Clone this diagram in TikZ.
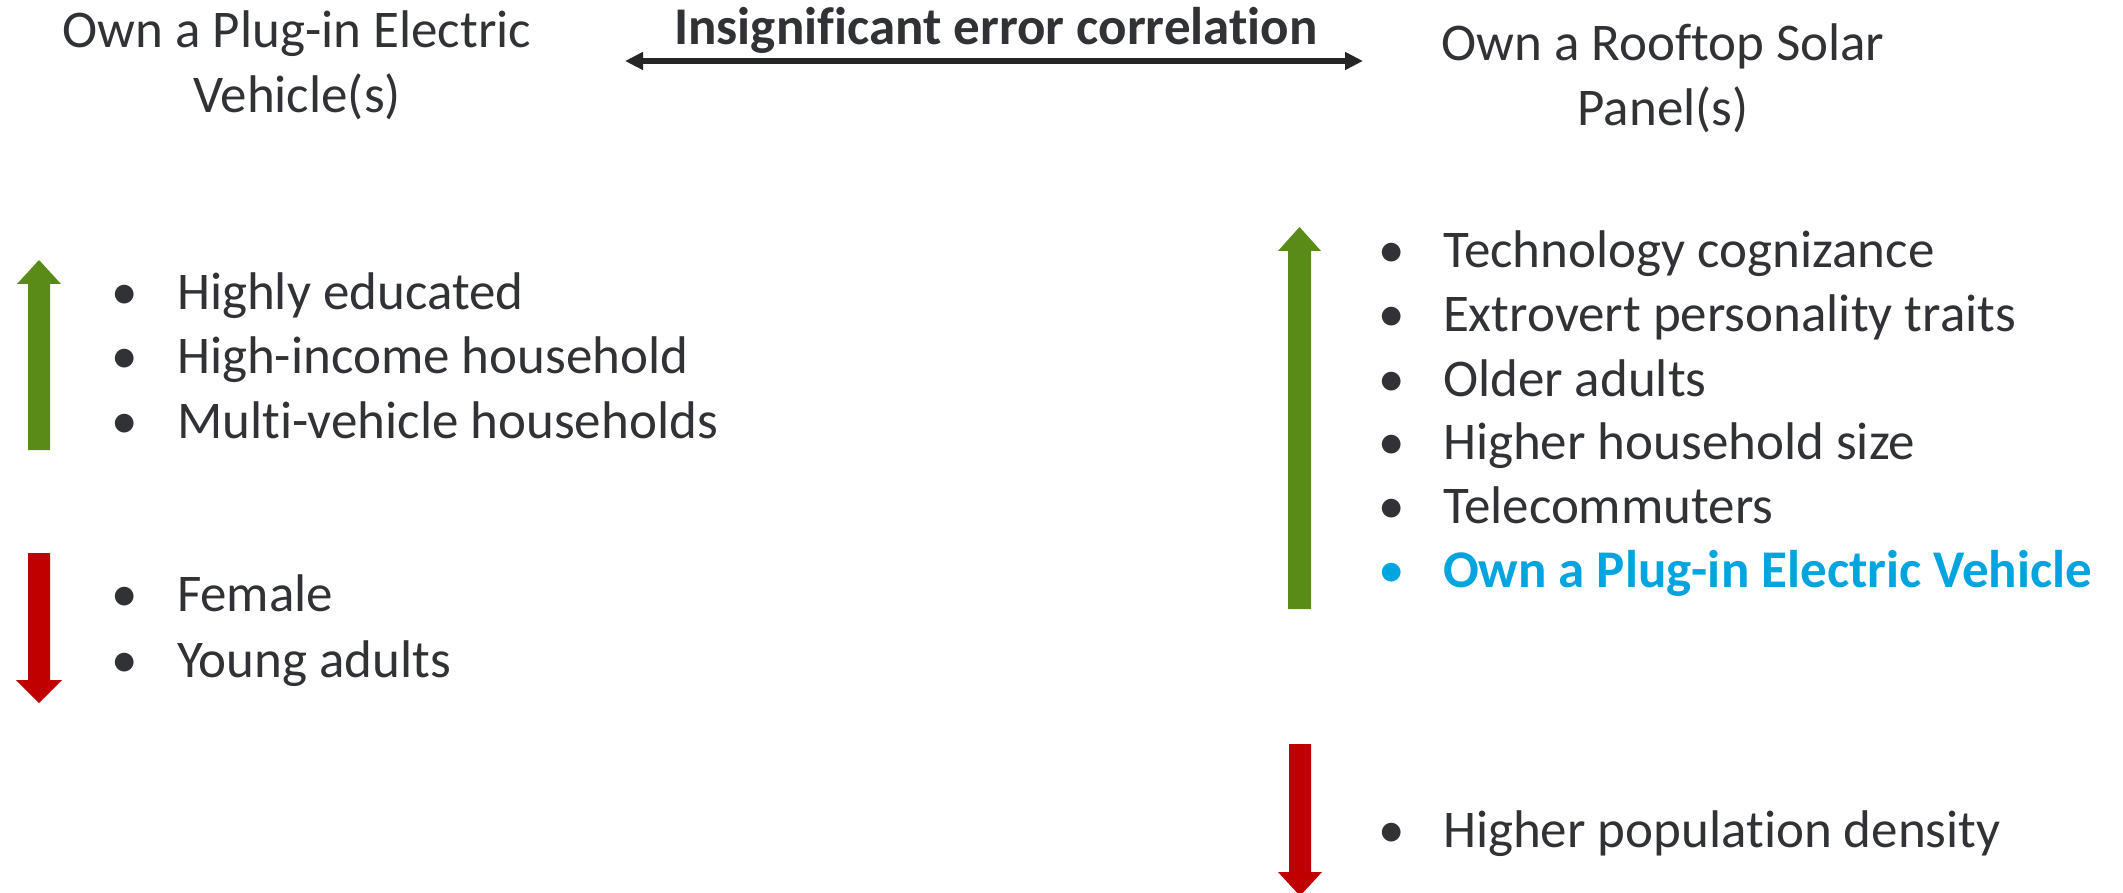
\documentclass[tikz,border=0pt]{standalone}
\usepackage{fontspec}
\setmainfont{Carlito}[Ligatures={NoCommon}]
\usetikzlibrary{arrows.meta}
\definecolor{txt}{HTML}{303235}
\definecolor{upgreen}{HTML}{5A8A18}
\definecolor{downred}{HTML}{C00000}
\definecolor{pevblue}{HTML}{00A4DE}
\definecolor{arrowdark}{HTML}{262626}
\begin{document}
\begin{tikzpicture}[x=1pt,y=-1pt,
  every node/.style={inner sep=0pt, outer sep=0pt, font=\fontsize{53}{64}\selectfont, text=txt},
  itemtext/.style={anchor=base west},
  bulletmark/.style={anchor=base},
  titletext/.style={anchor=base},
  uparrow/.style={fill=upgreen},
  downarrow/.style={fill=downred}]
\useasboundingbox (0,0) rectangle (2123,893);
\fill[white] (0,0) rectangle (2123,893);

% titles
\node[titletext] (lt1) at (297,48) {Own a Plug-in Electric};
\node[titletext] (lt2) at (297,113) {Vehicle(s)};
\node[titletext] (rt1) at (1663,61) {Own a Rooftop Solar};
\node[titletext] (rt2) at (1663,126) {Panel(s)};
\node[titletext, font=\fontsize{53}{64}\selectfont\bfseries] (ct) at (996,45) {Insignificant error correlation};

% double arrow
\coordinate (dl) at (625,61);
\coordinate (dr) at (1363,61);
\draw[arrowdark, line width=6pt, {Triangle[length=18pt,width=17pt]}-{Triangle[length=18pt,width=17pt]}] (dl) -- (dr);

% left block arrows
\fill[uparrow] (39,260) -- (61,284) -- (50,284) -- (50,450) -- (28,450) -- (28,284) -- (17,284) -- cycle;
\fill[downarrow] (28,553) -- (50,553) -- (50,680) -- (62,680) -- (39,703) -- (16,680) -- (28,680) -- cycle;

% right block arrows
\fill[uparrow] (1299.5,227) -- (1321,251) -- (1311,251) -- (1311,609) -- (1288,609) -- (1288,251) -- (1278,251) -- cycle;
\fill[downarrow] (1289,744) -- (1311,744) -- (1311,872) -- (1322,872) -- (1300,896) -- (1278,872) -- (1289,872) -- cycle;

% left lists
\node[bulletmark] (lb1) at (125,309) {•};
\node[itemtext] (li1) at (177,309) {Highly educated};
\node[bulletmark] (lb2) at (125,373) {•};
\node[itemtext] (li2) at (177,373) {High-income household};
\node[bulletmark] (lb3) at (125,438) {•};
\node[itemtext] (li3) at (177,438) {Multi-vehicle households};
\node[bulletmark] (lb4) at (125,611) {•};
\node[itemtext] (li4) at (177,611) {Female};
\node[bulletmark] (lb5) at (125,677) {•};
\node[itemtext] (li5) at (177,677) {Young adults};

% right lists
\node[bulletmark] (rb1) at (1392,268) {•};
\node[itemtext] (ri1) at (1443,268) {Technology cognizance};
\node[bulletmark] (rb2) at (1392,331) {•};
\node[itemtext] (ri2) at (1443,331) {Extrovert personality traits};
\node[bulletmark] (rb3) at (1392,396) {•};
\node[itemtext] (ri3) at (1443,396) {Older adults};
\node[bulletmark] (rb4) at (1392,459) {•};
\node[itemtext] (ri4) at (1443,459) {Higher household size};
\node[bulletmark] (rb5) at (1392,523) {•};
\node[itemtext] (ri5) at (1443,523) {Telecommuters};
\node[bulletmark, text=pevblue] (rb6) at (1392,587) {•};
\node[itemtext, text=pevblue, font=\fontsize{53}{64}\selectfont\bfseries] (ri6) at (1443,587) {Own a Plug-in Electric Vehicle};
\node[bulletmark] (rb7) at (1392,847) {•};
\node[itemtext] (ri7) at (1443,847) {Higher population density};
\end{tikzpicture}
\end{document}
